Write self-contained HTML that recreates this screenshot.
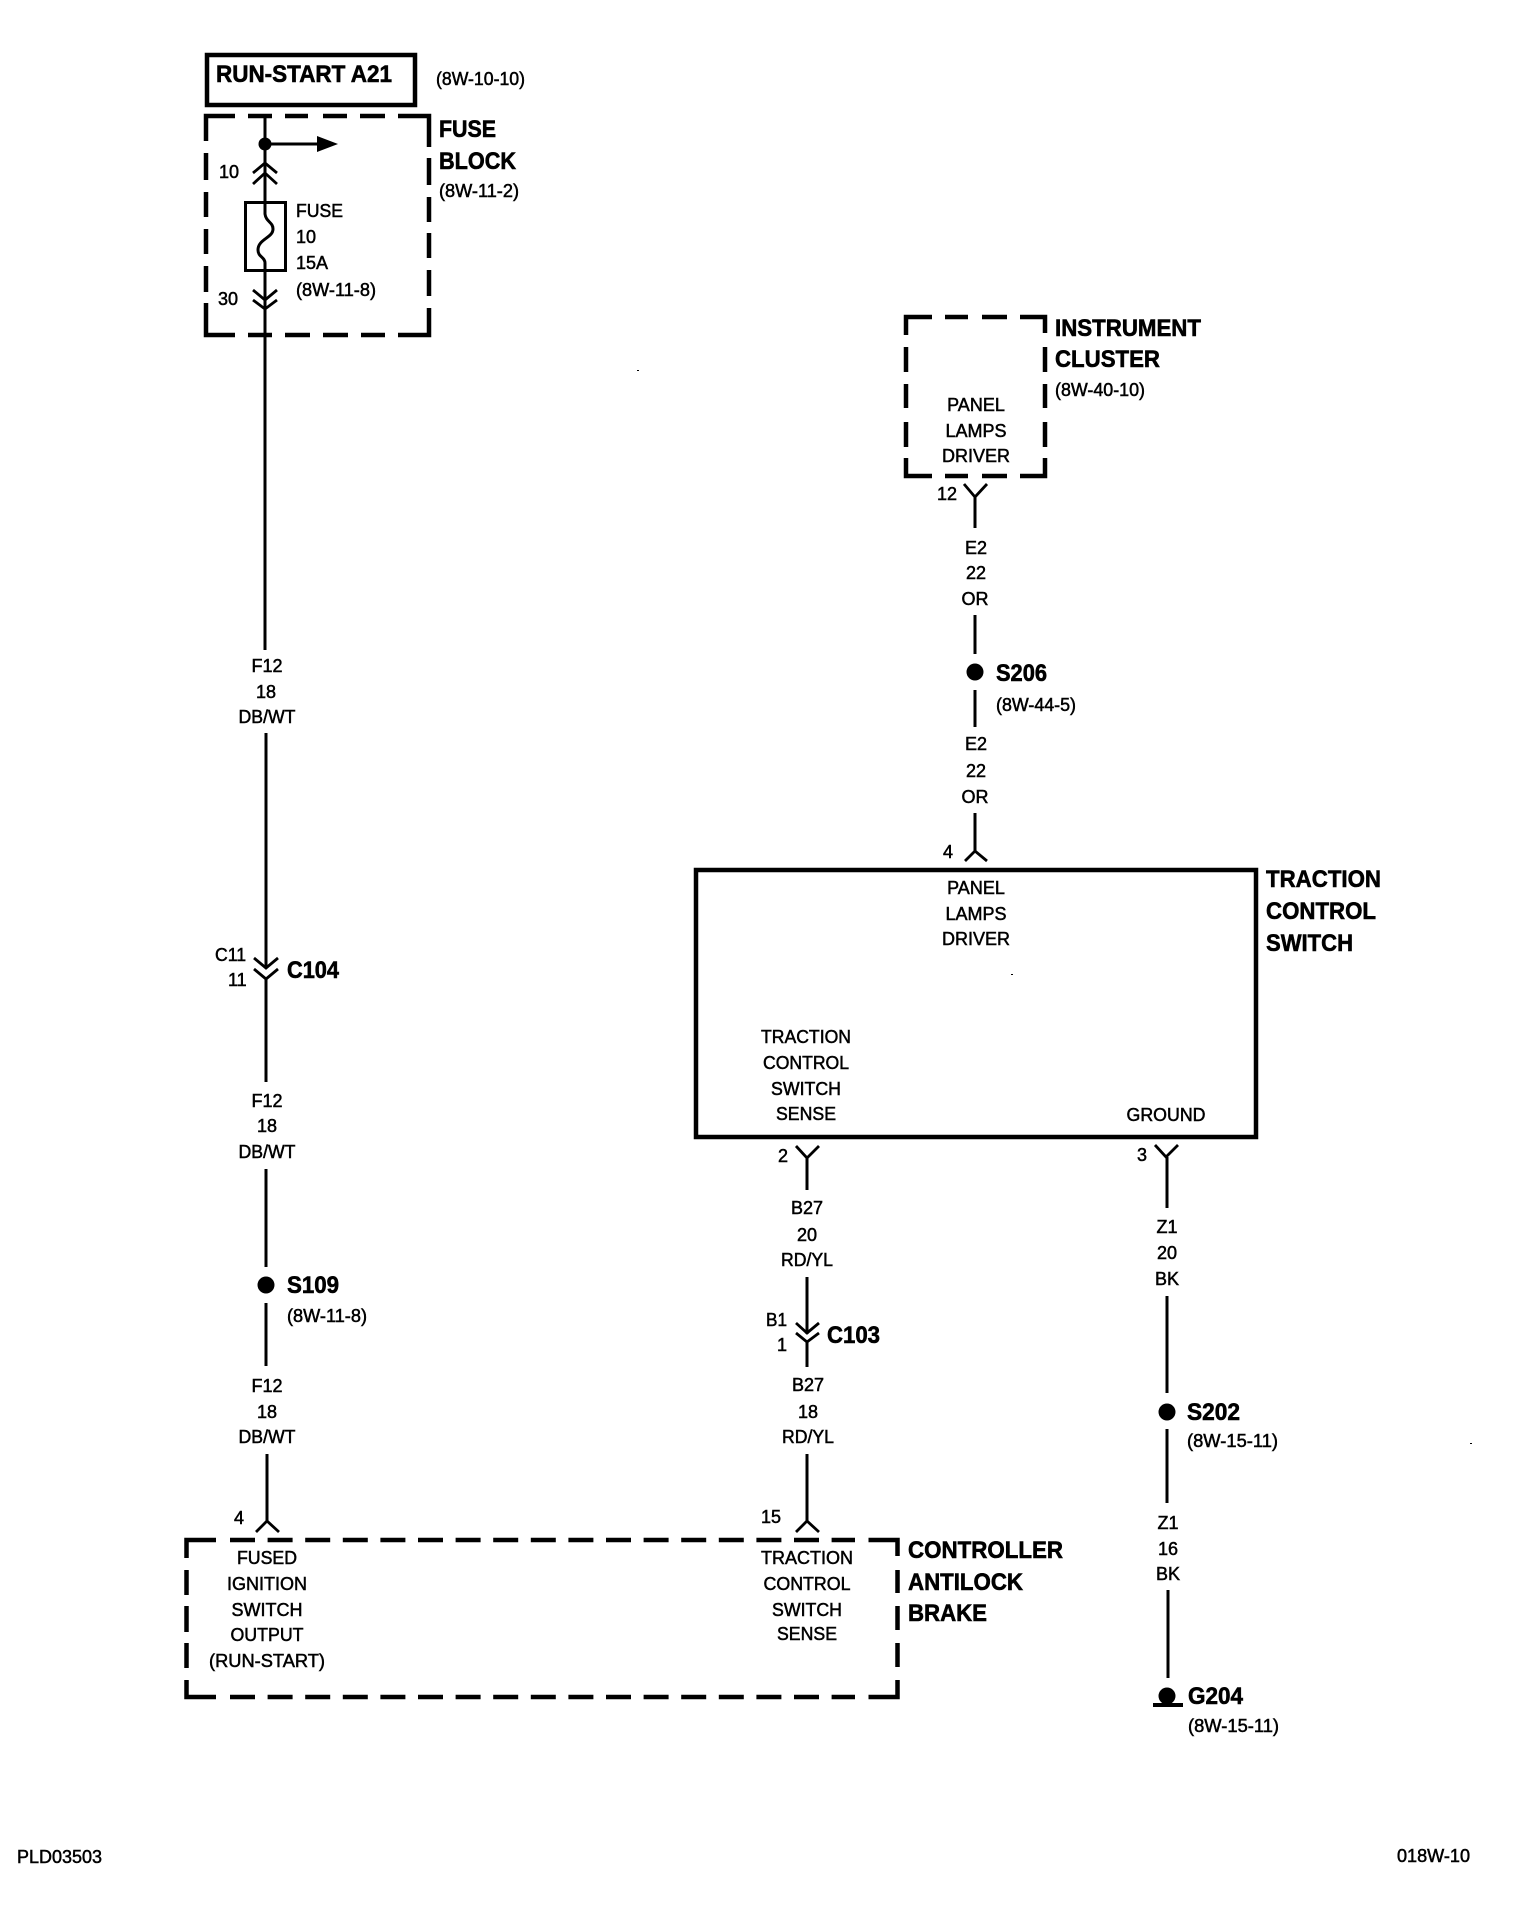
<!DOCTYPE html>
<html><head><meta charset="utf-8"><title>Wiring diagram</title>
<style>
html,body{margin:0;padding:0;background:#fff}
svg{display:block}
text{font-family:"Liberation Sans",Arial,sans-serif;fill:#000}
.s{font-size:18px;stroke:#000;stroke-width:.5px}
.b{font-size:24px;font-weight:bold;stroke:#000;stroke-width:.6px}
.m{text-anchor:middle}
.w{stroke:#000;stroke-width:3;fill:none}
.d{stroke:#000;stroke-width:4.5;fill:none}
.c{stroke:#000;stroke-width:2.8;fill:none}
</style></head><body>
<svg xmlns="http://www.w3.org/2000/svg" width="1536" height="1914" viewBox="0 0 1536 1914">
<rect width="1536" height="1914" fill="#fff"/>

<!-- RUN-START -->
<rect x="207" y="55" width="208" height="50" class="d"/>
<text class="b" x="216" y="82" textLength="176" lengthAdjust="spacingAndGlyphs">RUN-START A21</text>
<text class="s" x="436" y="85" textLength="89" lengthAdjust="spacingAndGlyphs">(8W-10-10)</text>

<!-- Fuse block dashed box -->
<g class="d">
<path d="M206 141V116H235"/><path d="M248 116H272M285 116H308M323 116H347M360 116H385"/><path d="M398 116H429V147"/>
<path d="M206 153V180M206 192V217M206 229V254M206 266V292"/><path d="M206 303V335H235"/>
<path d="M429 158V185M429 197V222M429 233V258M429 270V296"/>
<path d="M248 335H272M285 335H310M323 335H348M361 335H385"/><path d="M398 335H429V308"/>
</g>
<text class="b" x="439" y="137" textLength="57" lengthAdjust="spacingAndGlyphs">FUSE</text>
<text class="b" x="439" y="169" textLength="77" lengthAdjust="spacingAndGlyphs">BLOCK</text>
<text class="s" x="439" y="197" textLength="80" lengthAdjust="spacingAndGlyphs">(8W-11-2)</text>

<!-- Fuse wire -->
<path class="w" d="M265 116V202M265 271V308M265 308V650"/>
<circle cx="265" cy="144" r="6.5"/>
<path class="w" d="M265 144H320"/>
<path d="M317 136L338 144L317 152Z"/>
<path class="c" d="M253 173L265 163L277 173M253 184L265 173L277 184"/>
<rect x="245.500" y="202.500" width="40" height="68" fill="#fff" stroke="#000" stroke-width="3"/>
<path class="w" d="M265 202V214C266 222 273 222 273 229C273 238 258 239 258 250C258 257 265 257 265 263V271"/>
<path class="c" d="M253 290L265 300L277 290M253 300L265 309L277 300"/>
<text class="s" x="219" y="178">10</text>
<text class="s" x="218" y="305">30</text>
<text class="s" x="296" y="217" textLength="47" lengthAdjust="spacingAndGlyphs">FUSE</text>
<text class="s" x="296" y="243">10</text>
<text class="s" x="296" y="269">15A</text>
<text class="s" x="296" y="296" textLength="80" lengthAdjust="spacingAndGlyphs">(8W-11-8)</text>

<!-- F12 left wire -->
<text class="s m" x="267" y="672">F12</text>
<text class="s m" x="266" y="698">18</text>
<text class="s m" x="267" y="723" textLength="57" lengthAdjust="spacingAndGlyphs">DB/WT</text>
<path class="w" d="M266 733V968M266 979V1082"/>
<path class="c" d="M254 958L266 968L278 958M254 969L266 979L278 969"/>
<text class="s" x="215" y="961" textLength="31" lengthAdjust="spacingAndGlyphs">C11</text>
<text class="s" x="228" y="986">11</text>
<text class="b" x="287" y="978" textLength="52" lengthAdjust="spacingAndGlyphs">C104</text>
<text class="s m" x="267" y="1107">F12</text>
<text class="s m" x="267" y="1132">18</text>
<text class="s m" x="267" y="1158" textLength="57" lengthAdjust="spacingAndGlyphs">DB/WT</text>
<path class="w" d="M266 1169V1267M266 1303V1366"/>
<circle cx="266" cy="1285" r="8.500"/>
<text class="b" x="287" y="1293" textLength="52" lengthAdjust="spacingAndGlyphs">S109</text>
<text class="s" x="287" y="1322" textLength="80" lengthAdjust="spacingAndGlyphs">(8W-11-8)</text>
<text class="s m" x="267" y="1392">F12</text>
<text class="s m" x="267" y="1418">18</text>
<text class="s m" x="267" y="1443" textLength="57" lengthAdjust="spacingAndGlyphs">DB/WT</text>
<path class="w" d="M267 1454V1521"/>
<path class="c" d="M256 1532L267 1521L279 1532"/>
<text class="s" x="234" y="1524">4</text>

<!-- Instrument cluster -->
<g class="d">
<path d="M906 335V317H932"/><path d="M945 317H968M982 317H1007M1020 317H1045V333"/>
<path d="M906 347V372M906 384V408M906 422V447M906 458V476H932"/>
<path d="M1045 347V372M1045 384V408M1045 422V447M1045 458V476H1020"/>
<path d="M945 476H968M982 476H1007"/>
</g>
<text class="s m" x="976" y="411">PANEL</text>
<text class="s m" x="976" y="437">LAMPS</text>
<text class="s m" x="976" y="462">DRIVER</text>
<text class="b" x="1055" y="336" textLength="146" lengthAdjust="spacingAndGlyphs">INSTRUMENT</text>
<text class="b" x="1055" y="367" textLength="105" lengthAdjust="spacingAndGlyphs">CLUSTER</text>
<text class="s" x="1055" y="396" textLength="90" lengthAdjust="spacingAndGlyphs">(8W-40-10)</text>
<text class="s" x="937" y="500">12</text>
<path class="c" d="M964 484L975 497L987 484"/>
<path class="w" d="M975 497V528M975 615V654M975 690V727M975 813V851"/>
<text class="s m" x="976" y="554">E2</text>
<text class="s m" x="976" y="579">22</text>
<text class="s m" x="975" y="605">OR</text>
<circle cx="975" cy="672" r="8.500"/>
<text class="b" x="996" y="681" textLength="51" lengthAdjust="spacingAndGlyphs">S206</text>
<text class="s" x="996" y="711" textLength="80" lengthAdjust="spacingAndGlyphs">(8W-44-5)</text>
<text class="s m" x="976" y="750">E2</text>
<text class="s m" x="976" y="777">22</text>
<text class="s m" x="975" y="803">OR</text>
<text class="s" x="943" y="858">4</text>
<path class="c" d="M965 861L975 851L987 861"/>

<!-- Traction control switch -->
<rect x="696" y="870" width="560" height="267" fill="none" stroke="#000" stroke-width="4.5"/>
<text class="s m" x="976" y="894">PANEL</text>
<text class="s m" x="976" y="920">LAMPS</text>
<text class="s m" x="976" y="945">DRIVER</text>
<text class="b" x="1266" y="887" textLength="115" lengthAdjust="spacingAndGlyphs">TRACTION</text>
<text class="b" x="1266" y="919" textLength="110" lengthAdjust="spacingAndGlyphs">CONTROL</text>
<text class="b" x="1266" y="951" textLength="87" lengthAdjust="spacingAndGlyphs">SWITCH</text>
<text class="s m" x="806" y="1043" textLength="90" lengthAdjust="spacingAndGlyphs">TRACTION</text>
<text class="s m" x="806" y="1069" textLength="86" lengthAdjust="spacingAndGlyphs">CONTROL</text>
<text class="s m" x="806" y="1095" textLength="70" lengthAdjust="spacingAndGlyphs">SWITCH</text>
<text class="s m" x="806" y="1120" textLength="60" lengthAdjust="spacingAndGlyphs">SENSE</text>
<text class="s m" x="1166" y="1121" textLength="79" lengthAdjust="spacingAndGlyphs">GROUND</text>

<!-- B27 wire -->
<text class="s" x="778" y="1162">2</text>
<path class="c" d="M796 1146L807 1158L819 1146"/>
<path class="w" d="M807 1158V1190M807 1277V1334M807 1342V1367M807 1454V1521"/>
<text class="s m" x="807" y="1214">B27</text>
<text class="s m" x="807" y="1241">20</text>
<text class="s m" x="807" y="1266" textLength="52" lengthAdjust="spacingAndGlyphs">RD/YL</text>
<path class="c" d="M796 1323L807 1333L819 1323M796 1333L807 1342L819 1333"/>
<text class="s" x="766" y="1326" textLength="21" lengthAdjust="spacingAndGlyphs">B1</text>
<text class="s" x="777" y="1351">1</text>
<text class="b" x="827" y="1343" textLength="53" lengthAdjust="spacingAndGlyphs">C103</text>
<text class="s m" x="808" y="1391">B27</text>
<text class="s m" x="808" y="1418">18</text>
<text class="s m" x="808" y="1443" textLength="52" lengthAdjust="spacingAndGlyphs">RD/YL</text>
<path class="c" d="M796 1532L807 1521L819 1532"/>
<text class="s" x="761" y="1523">15</text>

<!-- Z1 wire -->
<text class="s" x="1137" y="1161">3</text>
<path class="c" d="M1155 1145L1166 1157L1178 1145"/>
<path class="w" d="M1167 1157V1208M1167 1296V1393M1167 1429V1503M1168 1590V1678"/>
<text class="s m" x="1167" y="1233">Z1</text>
<text class="s m" x="1167" y="1259">20</text>
<text class="s m" x="1167" y="1285">BK</text>
<circle cx="1167" cy="1412" r="8.500"/>
<text class="b" x="1187" y="1420" textLength="53" lengthAdjust="spacingAndGlyphs">S202</text>
<text class="s" x="1187" y="1447" textLength="91" lengthAdjust="spacingAndGlyphs">(8W-15-11)</text>
<text class="s m" x="1168" y="1529">Z1</text>
<text class="s m" x="1168" y="1555">16</text>
<text class="s m" x="1168" y="1580">BK</text>
<circle cx="1167" cy="1696" r="8.500"/>
<rect x="1163" y="1698" width="8" height="6"/>
<rect x="1153" y="1703" width="30" height="4"/>
<text class="b" x="1188" y="1704" textLength="55" lengthAdjust="spacingAndGlyphs">G204</text>
<text class="s" x="1188" y="1732" textLength="91" lengthAdjust="spacingAndGlyphs">(8W-15-11)</text>

<!-- Controller antilock brake -->
<g class="d">
<path d="M186.500 1558V1540H216"/>
<path d="M230 1540H855" stroke-dasharray="25 12.600"/>
<path d="M868.500 1540H897.500V1556"/>
<path d="M186.500 1570V1595M186.500 1606V1632M186.500 1643V1668"/>
<path d="M186.500 1680V1697H216"/>
<path d="M230 1697H855" stroke-dasharray="25 12.600"/>
<path d="M868.500 1697H897.500V1680"/>
<path d="M897.500 1570V1593M897.500 1606V1630M897.500 1643V1667"/>
</g>
<text class="s m" x="267" y="1564" textLength="60" lengthAdjust="spacingAndGlyphs">FUSED</text>
<text class="s m" x="267" y="1590" textLength="80" lengthAdjust="spacingAndGlyphs">IGNITION</text>
<text class="s m" x="267" y="1616" textLength="71" lengthAdjust="spacingAndGlyphs">SWITCH</text>
<text class="s m" x="267" y="1641" textLength="73" lengthAdjust="spacingAndGlyphs">OUTPUT</text>
<text class="s m" x="267" y="1667" textLength="116" lengthAdjust="spacingAndGlyphs">(RUN-START)</text>
<text class="s m" x="807" y="1564" textLength="92" lengthAdjust="spacingAndGlyphs">TRACTION</text>
<text class="s m" x="807" y="1590" textLength="87" lengthAdjust="spacingAndGlyphs">CONTROL</text>
<text class="s m" x="807" y="1616" textLength="70" lengthAdjust="spacingAndGlyphs">SWITCH</text>
<text class="s m" x="807" y="1640" textLength="60" lengthAdjust="spacingAndGlyphs">SENSE</text>
<text class="b" x="908" y="1558" textLength="155" lengthAdjust="spacingAndGlyphs">CONTROLLER</text>
<text class="b" x="908" y="1590" textLength="115" lengthAdjust="spacingAndGlyphs">ANTILOCK</text>
<text class="b" x="908" y="1621" textLength="79" lengthAdjust="spacingAndGlyphs">BRAKE</text>

<!-- Footer -->
<text class="s" x="17" y="1863" textLength="85" lengthAdjust="spacingAndGlyphs">PLD03503</text>
<text class="s" x="1397" y="1862" textLength="73" lengthAdjust="spacingAndGlyphs">018W-10</text>

<!-- Scan specks -->
<rect x="637" y="370" width="2" height="1"/>
<rect x="1011" y="974" width="2" height="1"/>
<rect x="1470" y="1443" width="2" height="1"/>
</svg>
</body></html>
